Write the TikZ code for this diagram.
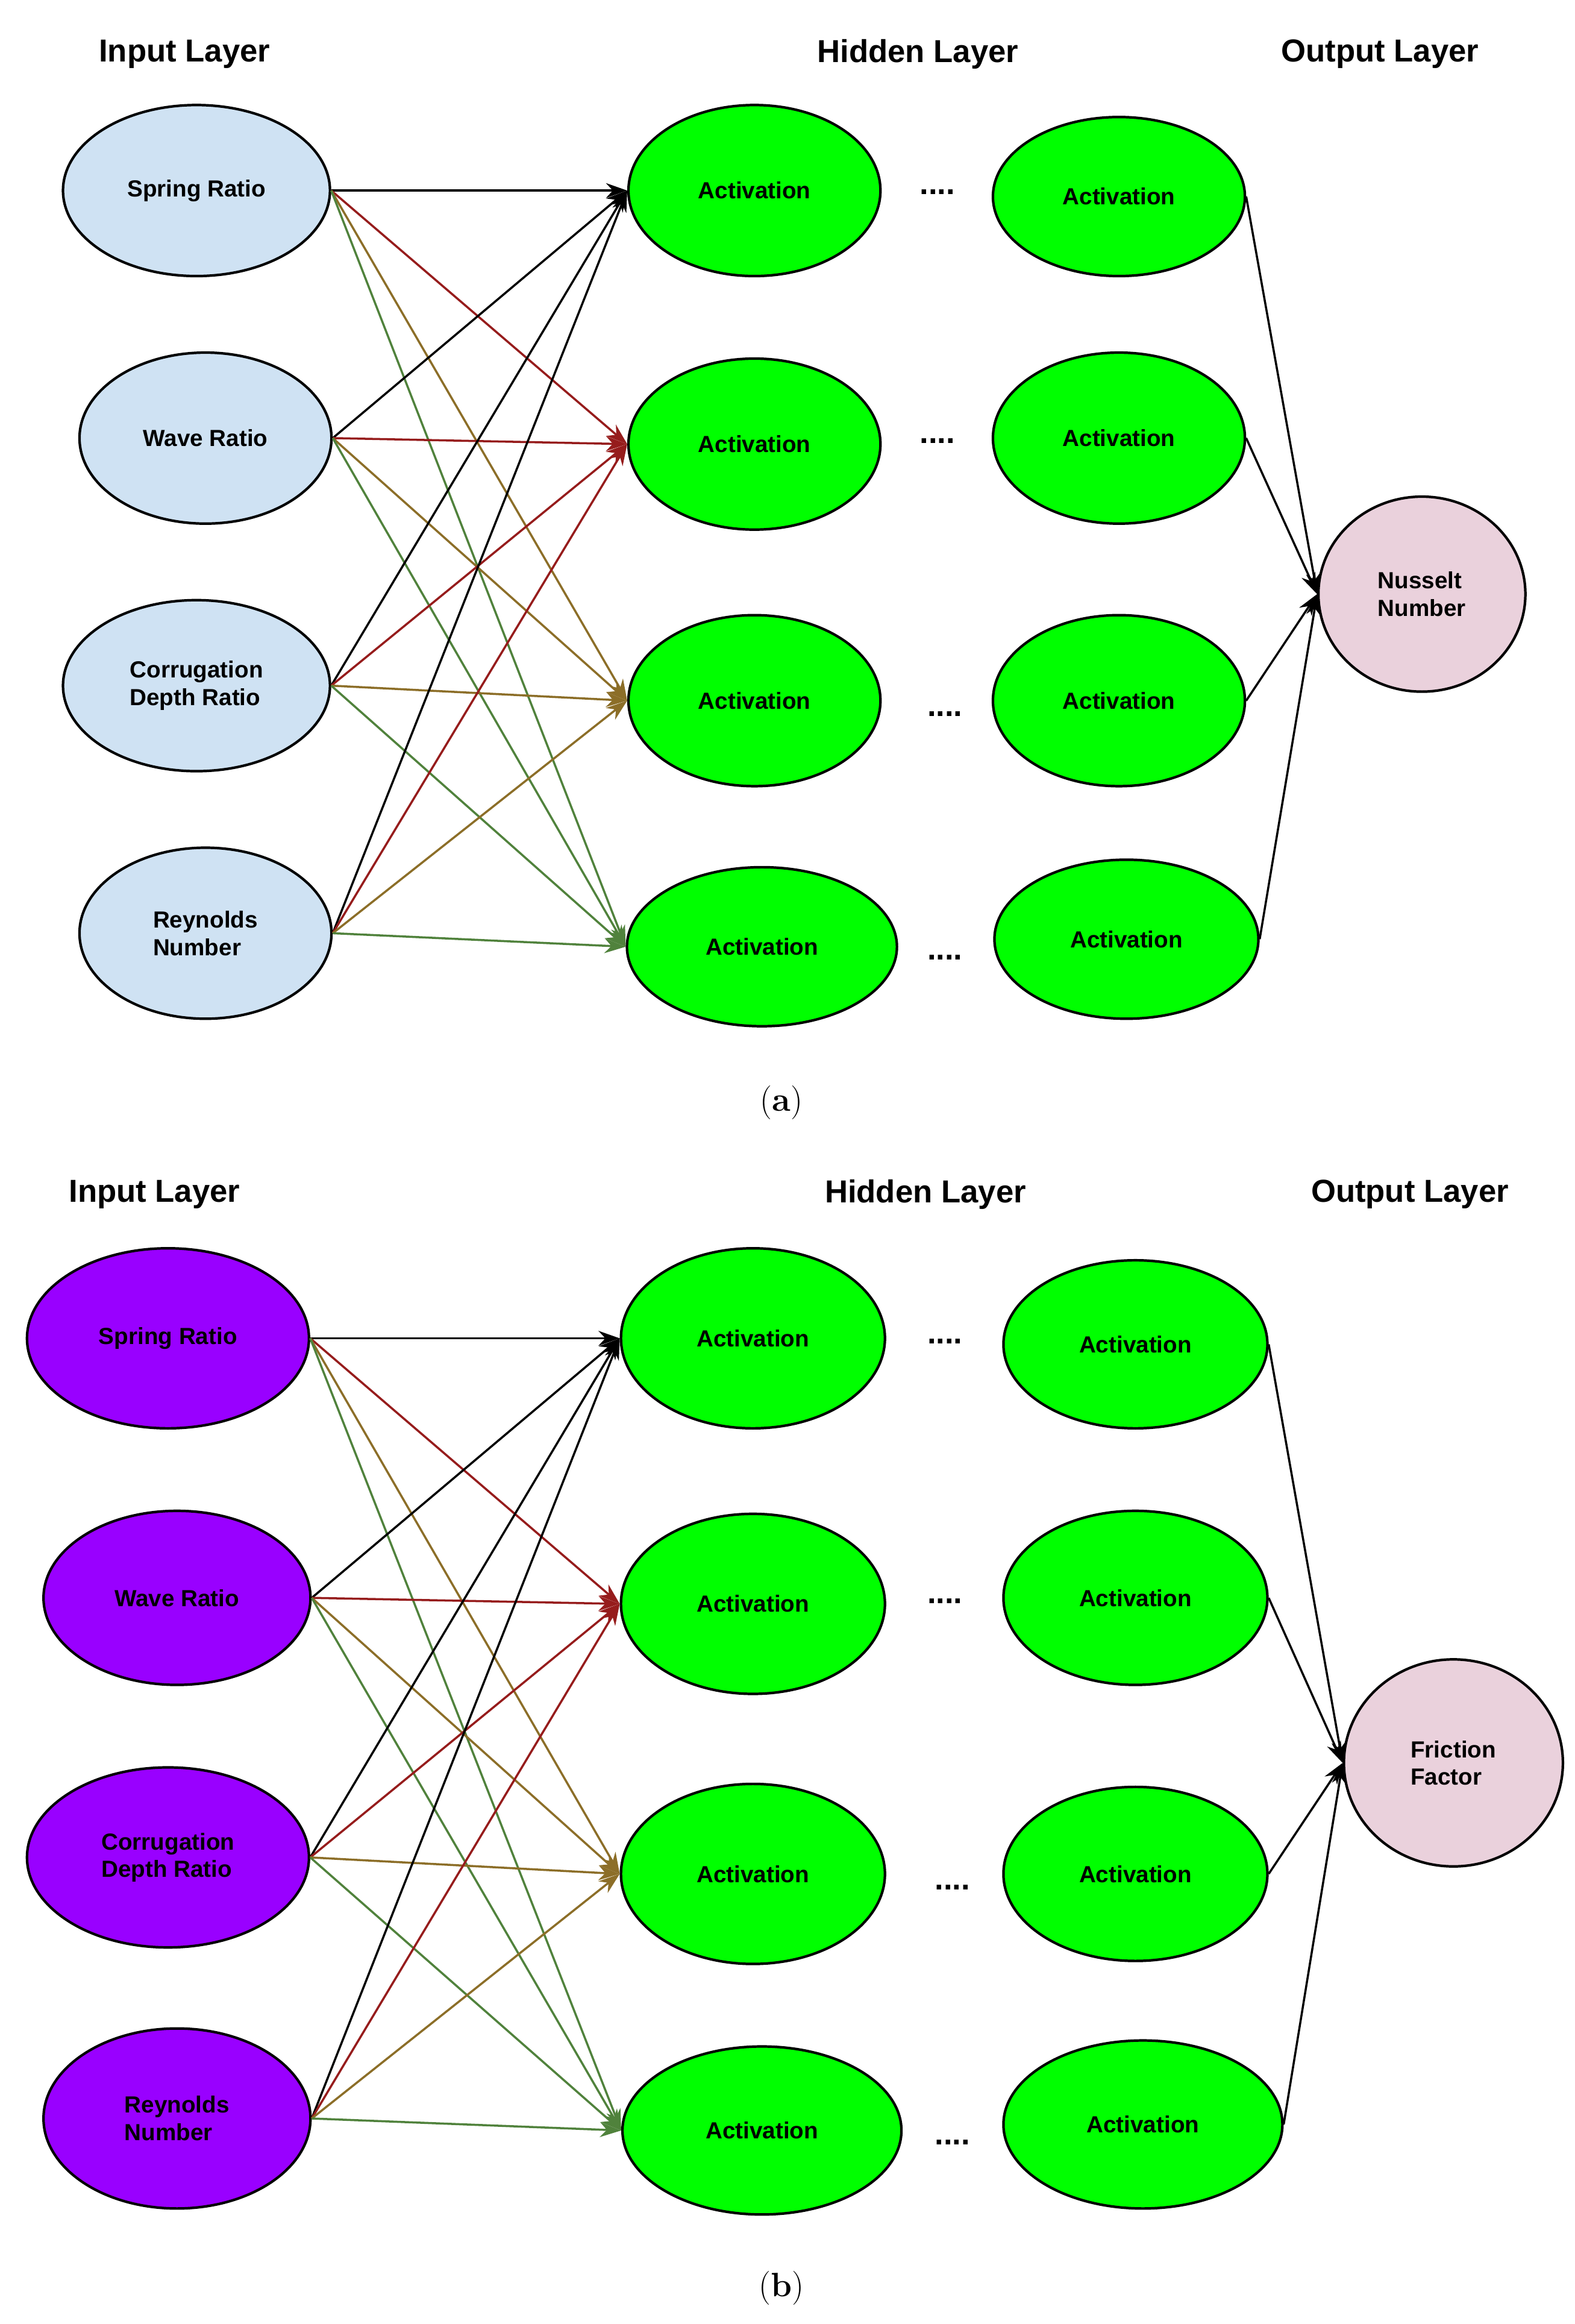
\documentclass[tikz,border=0pt]{standalone}
\usepackage{fontspec}
\setmainfont{Liberation Sans}
\newfontfamily\capfont{Latin Modern Roman}
\usetikzlibrary{shapes.geometric,arrows.meta}
\definecolor{wred}{RGB}{150,28,28}
\definecolor{wolive}{RGB}{140,110,40}
\definecolor{wgreen}{RGB}{80,130,60}
\definecolor{inblue}{RGB}{207,226,243}
\definecolor{inpurple}{RGB}{153,0,255}
\definecolor{outpink}{RGB}{234,209,220}
\begin{document}
\begin{tikzpicture}[x=0.0249cm,y=-0.0249cm,semithick,
    sz/.style 2 args={minimum width=#1*0.0249cm, minimum height=#2*0.0249cm},
    unit/.style={ellipse,draw=black,line width=1.2pt,inner sep=0pt,align=left,
                 font=\bfseries\fontsize{11}{13}\selectfont},
    ina/.style={unit,fill=inblue},
    inb/.style={unit,fill=inpurple},
    hid/.style={unit,fill=green},
    outp/.style={unit,fill=outpink},
    title/.style={font=\bfseries\fontsize{15}{17}\selectfont},
    dots/.style={font=\bfseries\fontsize{15}{17}\selectfont},
    edge/.style={-{Stealth[length=10pt,width=7pt]},line width=1pt}]
  \useasboundingbox (0,0) rectangle (1050,1549);

  % panel (a)
  \node[title] (aT1) at (123,36) {Input Layer};
  \node[title] (aT2) at (612,36) {Hidden Layer};
  \node[title] (aT3) at (920,36) {Output Layer};

  \node[ina,sz={178}{114}] (aI1) at (131,127) {Spring Ratio};
  \node[ina,sz={168}{114}] (aI2) at (137,292) {Wave Ratio};
  \node[ina,sz={178}{114}] (aI3) at (131,457) {Corrugation\\Depth Ratio};
  \node[ina,sz={168}{114}] (aI4) at (137,622) {Reynolds\\Number};

  \node[hid,sz={168}{114}] (aH1) at (503,127) {Activation};
  \node[hid,sz={168}{114}] (aH2) at (503,296) {Activation};
  \node[hid,sz={168}{114}] (aH3) at (503,467) {Activation};
  \node[hid,sz={180}{106}] (aH4) at (508,631) {Activation};

  \node[hid,sz={168}{106}] (aG1) at (746,131) {Activation};
  \node[hid,sz={168}{114}] (aG2) at (746,292) {Activation};
  \node[hid,sz={168}{114}] (aG3) at (746,467) {Activation};
  \node[hid,sz={176}{106}] (aG4) at (751,626) {Activation};

  \node[dots] (aD1) at (625,128) {....};
  \node[dots] (aD2) at (625,294) {....};
  \node[dots] (aD3) at (630,476) {....};
  \node[dots] (aD4) at (630,638) {....};

  \node[outp,sz={138}{130}] (aO) at (948,396) {Nusselt\\Number};

  \foreach \i in {1,...,4}
    \foreach \j/\c in {1/black,2/wred,3/wolive,4/wgreen}
      \draw[edge,\c] (aI\i.east) -- (aH\j.west);
  \foreach \j in {1,...,4}
    \draw[edge] (aG\j.east) -- (aO.west);

  \node[font=\capfont\fontsize{16}{18}\selectfont] (aC) at (521,735) {(\textbf{a})};

  % panel (b)
  \node[title] (bT1) at (103,796) {Input Layer};
  \node[title] (bT2) at (617,796) {Hidden Layer};
  \node[title] (bT3) at (940,796) {Output Layer};

  \node[inb,sz={188}{120}] (bI1) at (112,892) {Spring Ratio};
  \node[inb,sz={178}{116}] (bI2) at (118,1065) {Wave Ratio};
  \node[inb,sz={188}{120}] (bI3) at (112,1238) {Corrugation\\Depth Ratio};
  \node[inb,sz={178}{120}] (bI4) at (118,1412) {Reynolds\\Number};

  \node[hid,sz={176}{120}] (bH1) at (502,892) {Activation};
  \node[hid,sz={176}{120}] (bH2) at (502,1069) {Activation};
  \node[hid,sz={176}{120}] (bH3) at (502,1249) {Activation};
  \node[hid,sz={186}{112}] (bH4) at (508,1420) {Activation};

  \node[hid,sz={176}{112}] (bG1) at (757,896) {Activation};
  \node[hid,sz={176}{116}] (bG2) at (757,1065) {Activation};
  \node[hid,sz={176}{116}] (bG3) at (757,1249) {Activation};
  \node[hid,sz={186}{112}] (bG4) at (762,1416) {Activation};

  \node[dots] (bD1) at (630,894) {....};
  \node[dots] (bD2) at (630,1067) {....};
  \node[dots] (bD3) at (635,1258) {....};
  \node[dots] (bD4) at (635,1428) {....};

  \node[outp,sz={146}{138}] (bO) at (969,1175) {Friction\\Factor};

  \foreach \i in {1,...,4}
    \foreach \j/\c in {1/black,2/wred,3/wolive,4/wgreen}
      \draw[edge,\c] (bI\i.east) -- (bH\j.west);
  \foreach \j in {1,...,4}
    \draw[edge] (bG\j.east) -- (bO.west);

  \node[font=\capfont\fontsize{16}{18}\selectfont] (bC) at (521,1525) {(\textbf{b})};
\end{tikzpicture}
\end{document}
